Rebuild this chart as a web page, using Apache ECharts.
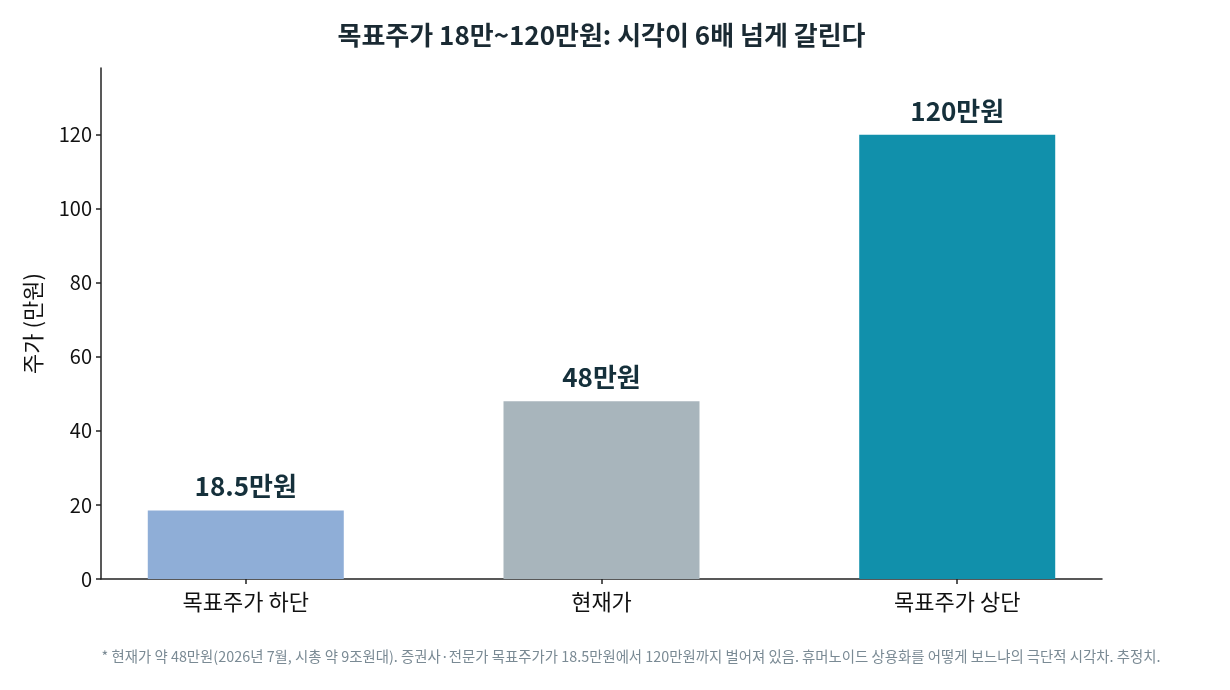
<!DOCTYPE html>
<html>
<head>
<meta charset="utf-8">
<script src="https://cdn.jsdelivr.net/npm/echarts@6/dist/echarts.min.js"></script>
<style>
  html, body { margin: 0; padding: 0; background: #fff; }
  #chart { width: 1230px; height: 690px; }
</style>
</head>
<body>
<div id="chart"></div>
<script>
var categories = ['목표주가 하단', '현재가', '목표주가 상단'];
var prices = [18.5, 48, 120];
var barLabels = ['18.5만원', '48만원', '120만원'];
var barColors = ['#8FAED7', '#A8B5BC', '#1190AB'];
var yTicks = [0, 20, 40, 60, 80, 100, 120];

var FONT = '"Noto Sans CJK KR", "Noto Sans", sans-serif';

var chart = echarts.init(document.getElementById('chart'));

var barData = prices.map(function (v, i) {
	return {
		value: [i, v],
		itemStyle: { color: barColors[i] },
		label: { formatter: barLabels[i] }
	};
});

var option = {
	backgroundColor: '#fff',
	animation: false,
	graphic: [{
		// 제목 (축 영역 기준 가운데)
		type: 'text',
		x: 601.5,
		y: 35,
		style: {
			text: '목표주가 18만~120만원: 시각이 6배 넘게 갈린다',
			align: 'center',
			verticalAlign: 'middle',
			fontFamily: FONT, fontSize: 26, fontWeight: 'bold', fill: '#1a2a33'
		}
	}, {
		type: 'text',
		x: 631,
		y: 657,
		style: {
			text: '* 현재가 약 48만원(2026년 7월, 시총 약 9조원대). 증권사·전문가 목표주가가 18.5만원에서 120만원까지 벌어져 있음. 휴머노이드 상용화를 어떻게 보느냐의 극단적 시각차. 추정치.',
			align: 'center',
			verticalAlign: 'middle',
			fontFamily: FONT, fontSize: 14.4, fill: '#7a8a94'
		}
	}],
	grid: { left: 101, right: 128, top: 68, bottom: 111 },
	xAxis: {
		type: 'value',
		min: -0.407,
		max: 2.407,
		splitLine: { show: false },
		axisLine: { show: true, onZero: false, lineStyle: { color: '#222', width: 1.5 } },
		axisTick: { show: true, customValues: [0, 1, 2], length: 5, lineStyle: { color: '#222', width: 1.5 } },
		axisLabel: {
			customValues: [0, 1, 2],
			formatter: function (v) { return categories[Math.round(v)]; },
			fontFamily: FONT, fontSize: 22, color: '#111', margin: 12
		}
	},
	yAxis: {
		type: 'value',
		min: 0,
		max: 138,
		name: '주가 (만원)',
		nameLocation: 'middle',
		nameGap: 57,
		nameRotate: 90,
		nameTextStyle: { fontFamily: FONT, fontSize: 22, color: '#111' },
		splitLine: { show: false },
		axisLine: { show: true, onZero: false, lineStyle: { color: '#222', width: 1.5 } },
		axisTick: { show: true, customValues: yTicks, length: 5, lineStyle: { color: '#222', width: 1.5 } },
		axisLabel: {
			customValues: yTicks,
			fontFamily: FONT, fontSize: 20, color: '#111', margin: 9
		}
	},
	series: [{
		type: 'bar',
		barWidth: 196,
		data: barData,
		label: {
			show: true,
			position: 'top',
			distance: 11,
			fontFamily: FONT, fontSize: 26, fontWeight: 'bold', color: '#15303b'
		}
	}]
};

chart.setOption(option);
</script>
</body>
</html>
